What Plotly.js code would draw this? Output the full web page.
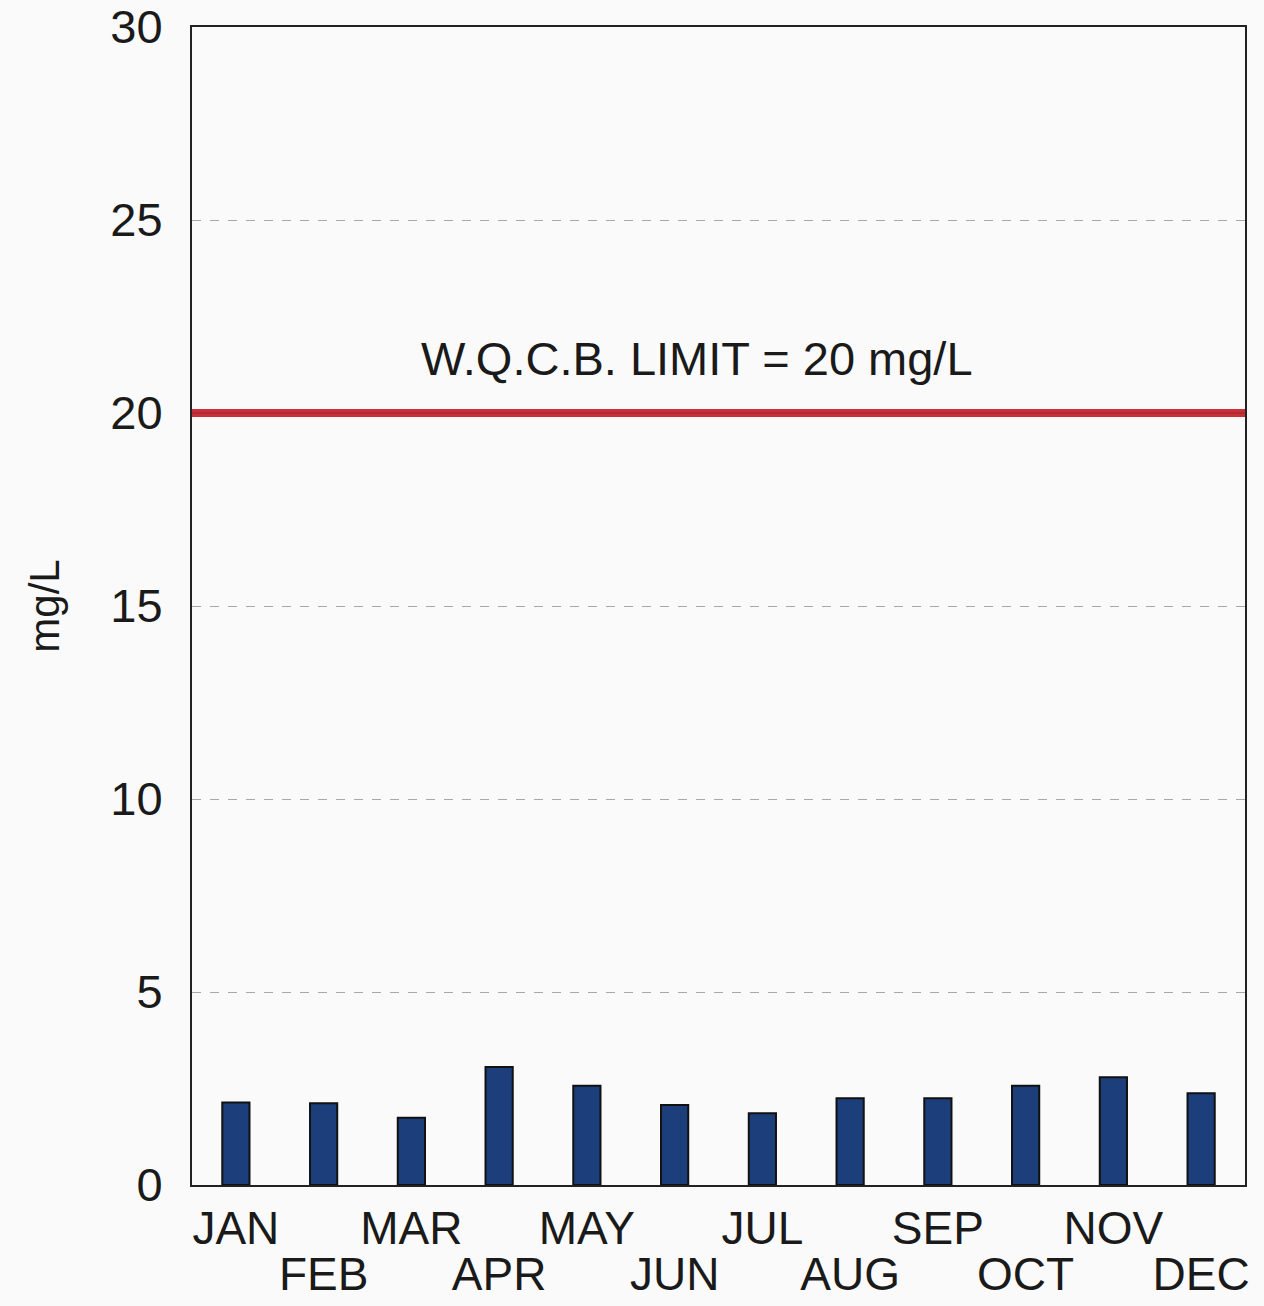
<!DOCTYPE html>
<html>
<head>
<meta charset="utf-8">
<script src="https://cdn.plot.ly/plotly-3.0.1.min.js"></script>
<style>html,body{margin:0;padding:0;background:#fafafa;}#chart{width:1264px;height:1306px;}</style>
</head>
<body>
<div id="chart"></div>
<script>
const months = ["JAN","FEB","MAR","APR","MAY","JUN","JUL","AUG","SEP","OCT","NOV","DEC"];
const upperRowLabels = ["JAN","MAR","MAY","JUL","SEP","NOV"];
const lowerRowLabels = ["FEB","APR","JUN","AUG","OCT","DEC"];
const values = [2.14, 2.12, 1.74, 3.06, 2.57, 2.07, 1.86, 2.25, 2.25, 2.57, 2.79, 2.38];
const limitValue = 20;
const limitLabel = "W.Q.C.B. LIMIT = 20 mg/L";
const yTicks = [0, 5, 10, 15, 20, 25, 30];

const font = "Liberation Sans, Arial, sans-serif";
const ink = "#1a1a1a";

const bars = {
  type: "bar",
  x: months,
  y: values,
  width: 0.31,
  marker: {color: "#1c3f7c", line: {color: "#111111", width: 2}},
  hoverinfo: "x+y"
};
const ghost = {
  type: "scatter", mode: "markers",
  x: months, y: values,
  xaxis: "x2",
  marker: {opacity: 0},
  hoverinfo: "skip"
};

const layout = {
  width: 1264, height: 1306,
  margin: {l: 192, r: 19, t: 27, b: 121},
  paper_bgcolor: "#fafafa",
  plot_bgcolor: "#fafafa",
  showlegend: false,
  font: {family: font, color: ink},
  xaxis: {
    type: "category",
    categoryorder: "array", categoryarray: months,
    tickvals: upperRowLabels,
    ticktext: upperRowLabels,
    tickfont: {size: 46, family: font, color: ink},
    showline: true, linecolor: "#222", linewidth: 2, mirror: true,
    ticks: "", showgrid: false,
    range: [-0.5, 11.5],
    ticklabelstandoff: 2
  },
  xaxis2: {
    type: "category",
    categoryorder: "array", categoryarray: months,
    overlaying: "x", anchor: "y", side: "bottom", matches: "x",
    tickvals: lowerRowLabels,
    ticktext: lowerRowLabels,
    tickfont: {size: 46, family: font, color: ink},
    showline: false, ticks: "", showgrid: false,
    range: [-0.5, 11.5],
    ticklabelstandoff: 58
  },
  yaxis: {
    range: [0, 30],
    tickvals: yTicks,
    tickfont: {size: 47, family: font, color: ink},
    showline: true, linecolor: "#222", linewidth: 2, mirror: true,
    ticks: "",
    showgrid: true, gridcolor: "#a8a8a8", griddash: "dash", gridwidth: 1,
    zeroline: false,
    ticklabelstandoff: 18,
    title: {text: "mg/L", font: {size: 42, family: font, color: ink}, standoff: 38}
  },
  shapes: [{
    type: "line", xref: "paper", x0: 0, x1: 1, yref: "y", y0: limitValue, y1: limitValue,
    line: {color: "#c8313a", width: 8}
  }, {
    type: "line", xref: "paper", x0: 0, x1: 1, yref: "y", y0: limitValue, y1: limitValue,
    line: {color: "#b02a30", width: 2}
  }],
  annotations: [{
    xref: "paper", x: 0.48, yref: "y", y: 21.4,
    text: limitLabel, showarrow: false,
    font: {size: 47, family: font, color: ink},
    xanchor: "center", yanchor: "middle"
  }]
};

Plotly.newPlot("chart", [bars, ghost], layout, {displayModeBar: false, staticPlot: true});
</script>
</body>
</html>
